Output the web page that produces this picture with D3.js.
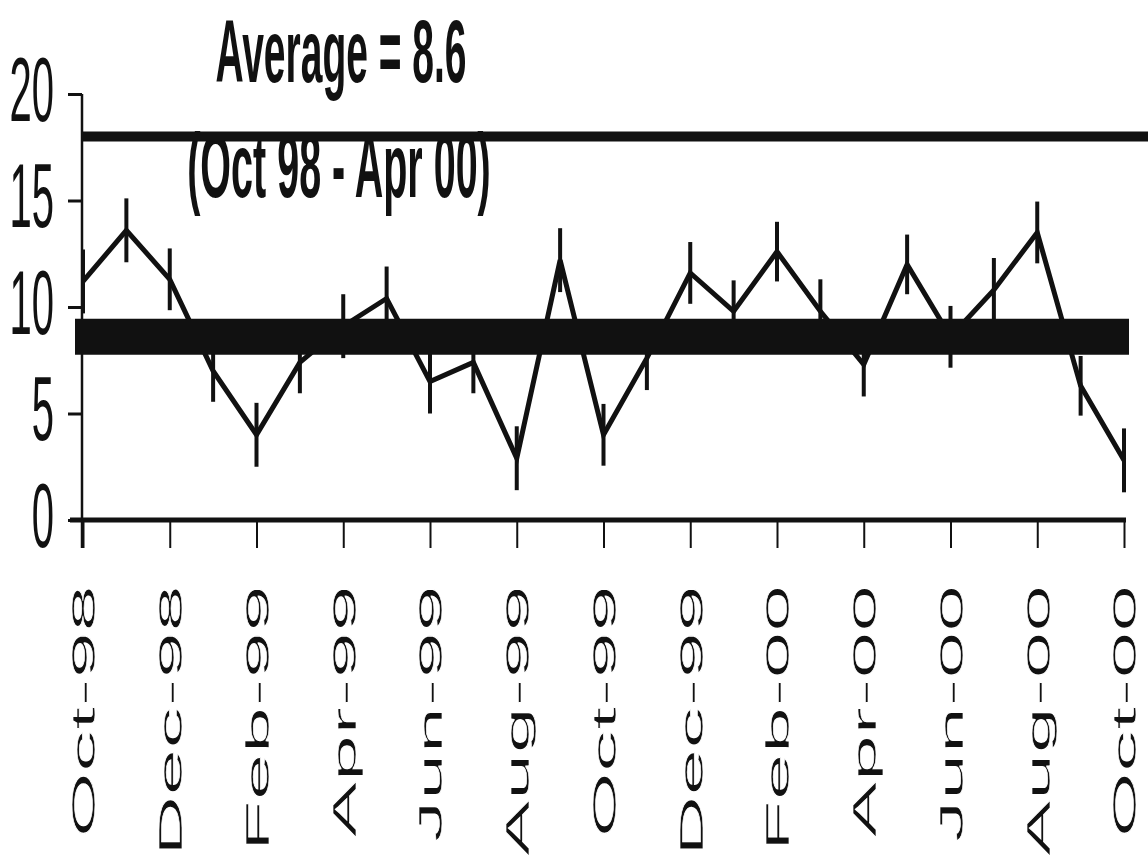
<!DOCTYPE html>
<html>
<head>
<meta charset="utf-8">
<script src="https://d3js.org/d3.v7.min.js"></script>
<style>
  body { margin: 0; background: #fff; }
  svg { display: block; }
</style>
</head>
<body>
<div id="chartHere"></div>
<script>

// monthly values, Oct 98 - Oct 00
var months = ["Oct-98","Nov-98","Dec-98","Jan-99","Feb-99","Mar-99","Apr-99","May-99",
              "Jun-99","Jul-99","Aug-99","Sep-99","Oct-99","Nov-99","Dec-99","Jan-00",
              "Feb-00","Mar-00","Apr-00","May-00","Jun-00","Jul-00","Aug-00","Sep-00","Oct-00"];
var values = [11.2, 13.6, 11.3, 7.0, 4.0, 7.4, 9.1, 10.4,
              6.5, 7.4, 2.9, 12.2, 4.0, 7.6, 11.6, 9.8,
              12.6, 9.8, 7.3, 12.0, 8.6, 10.8, 13.5, 6.3, 2.8];
var errors = [1.5, 1.5, 1.45, 1.45, 1.5, 1.45, 1.5, 1.5,
              1.5, 1.45, 1.5, 1.5, 1.45, 1.5, 1.45, 1.45,
              1.4, 1.5, 1.5, 1.4, 1.45, 1.5, 1.45, 1.4, 1.5];
var tickLabels = ["Oct-98","Dec-98","Feb-99","Apr-99","Jun-99","Aug-99","Oct-99",
                  "Dec-99","Feb-00","Apr-00","Jun-00","Aug-00","Oct-00"];
var yTicks = [0, 5, 10, 15, 20];
var average = 8.6;
var upperLimit = 18;
var titleText = "Average = 8.6";
var subText = "(Oct 98 - Apr 00)";

var dims = {width: 1148, height: 864};
var ink = "#111";
var font = "'Liberation Sans', Arial, sans-serif";

var svg = d3.select("#chartHere").append("svg")
    .attr("width", dims.width)
    .attr("height", dims.height);

var x = d3.scalePoint().domain(months).range([83, 1124]);
var y = d3.scaleLinear().domain([0, 20]).range([520, 94]);

// titles (drawn first, the limit line sits over the second one)
svg.append("g")
    .attr("transform", "translate(341,82) scale(1,2.27)")
  .append("text")
    .attr("text-anchor", "middle")
    .attr("font-family", font)
    .attr("font-weight", "bold")
    .attr("font-size", 39)
    .attr("fill", ink)
    .text(titleText);

svg.append("g")
    .attr("transform", "translate(339,197) scale(1,2.3)")
  .append("text")
    .attr("text-anchor", "middle")
    .attr("font-family", font)
    .attr("font-weight", "bold")
    .attr("font-size", 39.5)
    .attr("fill", ink)
    .text(subText);

// y axis
var yAxis = d3.axisLeft(y).tickValues(yTicks).tickSize(14).tickFormat(d3.format("d"));
var gy = svg.append("g")
    .attr("transform", "translate(82,0)")
    .call(yAxis);
gy.select(".domain").remove();
gy.selectAll(".tick line").attr("stroke", ink).attr("stroke-width", 3);
gy.selectAll(".tick text")
    .attr("x", 0).attr("dy", 0)
    .attr("transform", "translate(-28,26) scale(1,2.27)")
    .attr("font-family", font)
    .attr("font-size", 40)
    .attr("fill", ink);

svg.append("line")
    .attr("x1", 82).attr("x2", 82)
    .attr("y1", y(20)).attr("y2", 548)
    .attr("stroke", ink).attr("stroke-width", 2.5);

// x axis
var xAxis = d3.axisBottom(x).tickValues(tickLabels).tickSize(28).tickSizeOuter(0);
var gx = svg.append("g")
    .attr("transform", "translate(0," + y(0) + ")")
    .call(xAxis);
gx.select(".domain").remove();
gx.selectAll(".tick line").attr("stroke", ink).attr("stroke-width", 2);
gx.selectAll(".tick text")
    .attr("x", 0).attr("y", 0).attr("dy", "0.36em")
    .attr("text-anchor", "end")
    .attr("transform", "translate(0,65) rotate(-90) scale(2.55,1)")
    .attr("font-family", font)
    .attr("font-size", 33)
    .attr("fill", ink)
    .attr("stroke", "#fff")
    .attr("stroke-width", 0.6)
    .attr("paint-order", "normal");

svg.append("line")
    .attr("x1", 70).attr("x2", 1126)
    .attr("y1", y(0)).attr("y2", y(0))
    .attr("stroke", ink).attr("stroke-width", 5);

// upper line
svg.append("line")
    .attr("x1", 82).attr("x2", dims.width)
    .attr("y1", y(upperLimit)).attr("y2", y(upperLimit))
    .attr("stroke", ink).attr("stroke-width", 10);

// data line
var line = d3.line()
    .x(function(d, i) { return x(months[i]); })
    .y(function(d) { return y(d); });

svg.append("path")
    .datum(values)
    .attr("d", line)
    .attr("fill", "none")
    .attr("stroke", ink)
    .attr("stroke-width", 5)
    .attr("stroke-linejoin", "miter");

// error bars
svg.selectAll("line.err")
    .data(values).enter()
  .append("line")
    .attr("class", "err")
    .attr("x1", function(d, i) { return x(months[i]); })
    .attr("x2", function(d, i) { return x(months[i]); })
    .attr("y1", function(d, i) { return y(d + errors[i]); })
    .attr("y2", function(d, i) { return y(d - errors[i]); })
    .attr("stroke", ink)
    .attr("stroke-width", 4);

// average band
svg.append("line")
    .attr("x1", x(months[0]) - 8)
    .attr("x2", x(months[months.length - 1]) + 5)
    .attr("y1", y(average)).attr("y2", y(average))
    .attr("stroke", ink)
    .attr("stroke-width", 36);

</script>
</body>
</html>
